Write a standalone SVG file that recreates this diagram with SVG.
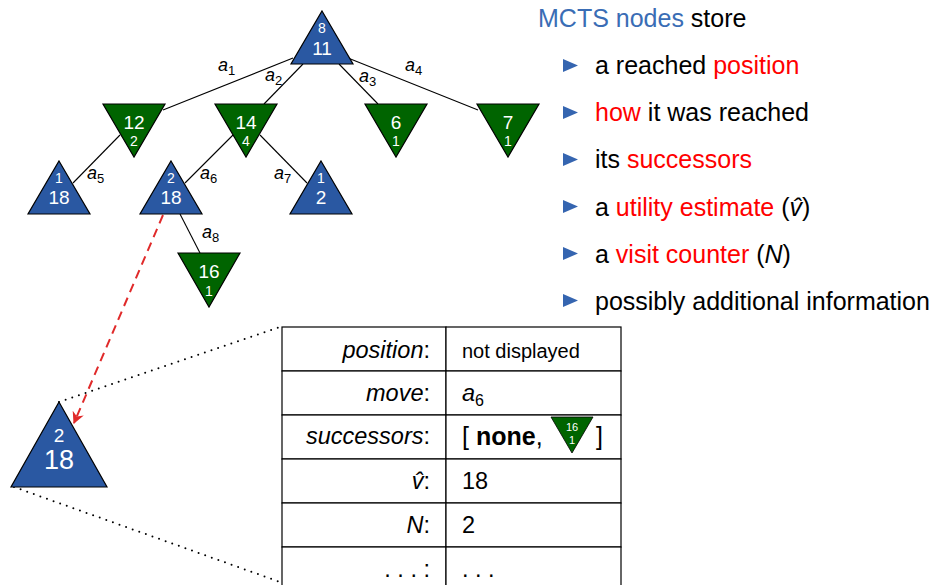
<svg xmlns="http://www.w3.org/2000/svg" width="935" height="585" viewBox="0 0 935 585">
<style>
.bl{fill:#2a58a2;stroke:#000;stroke-width:1.2}
.gr{fill:#006400;stroke:#000;stroke-width:1.2}
.nt{font-family:"Liberation Sans",Arial,sans-serif;fill:#fff;text-anchor:middle}
.big{font-size:19px}
.sm{font-size:14px}
.edge{stroke:#000;stroke-width:1.1;fill:none}
.el{font-family:"Liberation Sans",Arial,sans-serif;font-size:18px;fill:#000}
.it{font-style:italic}
.sub{font-size:13px;font-style:normal}
.rt{font-family:"Liberation Sans",Arial,sans-serif;font-size:25px;fill:#000}
.red{fill:#ff0000}
.blt{fill:#3565b0}
.tb{font-family:"Liberation Sans",Arial,sans-serif;font-size:23.5px;fill:#000}
.tl{text-anchor:end}
.dot{stroke:#000;stroke-width:2;stroke-linecap:round;stroke-dasharray:0 7;fill:none}
.cell{fill:#fff;stroke:#000;stroke-width:1.2}
</style>
<defs>
<marker id="ah" viewBox="0 0 10 10" refX="9" refY="5" markerWidth="6" markerHeight="6" orient="auto" markerUnits="strokeWidth">
<path d="M0,0 L10,5 L0,10 L3,5 Z" fill="#e02a2a"/>
</marker>
</defs>

<g id="connectors">
<line class="edge" x1="293" y1="58" x2="163" y2="110"/>
<line class="edge" x1="303" y1="64" x2="264" y2="104"/>
<line class="edge" x1="339" y1="64" x2="378" y2="104"/>
<line class="edge" x1="348" y1="58" x2="478" y2="110"/>
<line class="edge" x1="120" y1="135" x2="73" y2="183"/>
<line class="edge" x1="233" y1="135" x2="185" y2="183"/>
<line class="edge" x1="260" y1="135" x2="307" y2="183"/>
<line class="edge" x1="180" y1="214" x2="200" y2="253"/>
<line x1="163" y1="215" x2="74" y2="423" stroke="#e02a2a" stroke-width="2" stroke-dasharray="9 6" marker-end="url(#ah)"/>
<line class="dot" x1="59" y1="402" x2="280" y2="327"/>
<line class="dot" x1="14" y1="487" x2="280" y2="582"/>
</g>

<g id="edge-labels">
<text class="el" x="218" y="71"><tspan class="it">a</tspan><tspan class="sub" dy="4">1</tspan></text>
<text class="el" x="265" y="81"><tspan class="it">a</tspan><tspan class="sub" dy="4">2</tspan></text>
<text class="el" x="359" y="82"><tspan class="it">a</tspan><tspan class="sub" dy="4">3</tspan></text>
<text class="el" x="405" y="71"><tspan class="it">a</tspan><tspan class="sub" dy="4">4</tspan></text>
<text class="el" x="87" y="179"><tspan class="it">a</tspan><tspan class="sub" dy="4">5</tspan></text>
<text class="el" x="200" y="179"><tspan class="it">a</tspan><tspan class="sub" dy="4">6</tspan></text>
<text class="el" x="274" y="179"><tspan class="it">a</tspan><tspan class="sub" dy="4">7</tspan></text>
<text class="el" x="202" y="238"><tspan class="it">a</tspan><tspan class="sub" dy="4">8</tspan></text>
</g>

<g id="root">
<polygon class="bl" points="322,11 353,64 291,64"/>
<text class="nt sm" x="322" y="33">8</text>
<text class="nt big" x="322" y="55">11</text>
</g>
<g id="n12">
<polygon class="gr" points="103,104 165,104 134,157"/>
<text class="nt big" x="134" y="129">12</text>
<text class="nt sm" x="134" y="146">2</text>
</g>
<g id="n14">
<polygon class="gr" points="215,104 277,104 246,157"/>
<text class="nt big" x="246" y="129">14</text>
<text class="nt sm" x="246" y="146">4</text>
</g>
<g id="n6">
<polygon class="gr" points="365,104 427,104 396,157"/>
<text class="nt big" x="396" y="129">6</text>
<text class="nt sm" x="396" y="146">1</text>
</g>
<g id="n7">
<polygon class="gr" points="477,104 539,104 508,157"/>
<text class="nt big" x="508" y="129">7</text>
<text class="nt sm" x="508" y="146">1</text>
</g>
<g id="n18a">
<polygon class="bl" points="59,161 90,214 28,214"/>
<text class="nt sm" x="59" y="183">1</text>
<text class="nt big" x="59" y="204">18</text>
</g>
<g id="n18b">
<polygon class="bl" points="171,161 202,214 140,214"/>
<text class="nt sm" x="171" y="183">2</text>
<text class="nt big" x="171" y="204">18</text>
</g>
<g id="n2">
<polygon class="bl" points="321,161 352,214 290,214"/>
<text class="nt sm" x="321" y="183">1</text>
<text class="nt big" x="321" y="204">2</text>
</g>
<g id="n16">
<polygon class="gr" points="178,253 240,253 209,307"/>
<text class="nt big" x="209" y="278">16</text>
<text class="nt sm" x="209" y="296">1</text>
</g>
<g id="bignode">
<polygon class="bl" points="59,402 107,487 11,487"/>
<text class="nt" style="font-size:19px" x="59" y="442">2</text>
<text class="nt" style="font-size:27px" x="59" y="469">18</text>
</g>

<g id="bullets">
<text class="rt" x="538" y="27"><tspan fill="#3a6db5">MCTS nodes</tspan> store</text>
<polygon class="blt" points="563,59 578,65.5 563,72"/>
<text class="rt" x="595" y="74">a reached <tspan class="red">position</tspan></text>
<polygon class="blt" points="563,106 578,112.5 563,119"/>
<text class="rt" x="595" y="121"><tspan class="red">how</tspan> it was reached</text>
<polygon class="blt" points="563,153 578,159.5 563,166"/>
<text class="rt" x="595" y="168">its <tspan class="red">successors</tspan></text>
<polygon class="blt" points="563,200 578,206.5 563,213"/>
<text class="rt" x="595" y="216">a <tspan class="red">utility estimate</tspan> (<tspan font-style="italic">v̂</tspan>)</text>
<polygon class="blt" points="563,247 578,253.5 563,260"/>
<text class="rt" x="595" y="263">a <tspan class="red">visit counter</tspan> (<tspan font-style="italic">N</tspan>)</text>
<polygon class="blt" points="563,294 578,300.5 563,307"/>
<text class="rt" x="595" y="310">possibly additional information</text>
</g>

<g id="table">
<rect class="cell" x="282" y="327" width="164" height="44"/>
<rect class="cell" x="446" y="327" width="175" height="44"/>
<rect class="cell" x="282" y="371" width="164" height="44"/>
<rect class="cell" x="446" y="371" width="175" height="44"/>
<rect class="cell" x="282" y="415" width="164" height="44"/>
<rect class="cell" x="446" y="415" width="175" height="44"/>
<rect class="cell" x="282" y="459" width="164" height="44"/>
<rect class="cell" x="446" y="459" width="175" height="44"/>
<rect class="cell" x="282" y="503" width="164" height="44"/>
<rect class="cell" x="446" y="503" width="175" height="44"/>
<rect class="cell" x="282" y="547" width="164" height="44"/>
<rect class="cell" x="446" y="547" width="175" height="44"/>

<text class="tb tl" x="430" y="358"><tspan font-style="italic">position</tspan>:</text>
<text class="tb" x="462" y="358" style="font-size:20px">not displayed</text>
<text class="tb tl" x="430" y="401"><tspan font-style="italic">move</tspan>:</text>
<text class="tb" x="462" y="401"><tspan font-style="italic">a</tspan><tspan style="font-size:16px" dy="5">6</tspan></text>
<text class="tb tl" x="430" y="444"><tspan font-style="italic">successors</tspan>:</text>
<text class="tb" x="462" y="445" style="font-size:25px">[ <tspan font-weight="bold">none</tspan>,</text>
<text class="tb" x="596" y="445" style="font-size:25px">]</text>
<g id="mini16">
<polygon class="gr" points="551,417 593,417 572,453" style="stroke-width:0.8"/>
<text class="nt" style="font-size:11px" x="572" y="431">16</text>
<text class="nt" style="font-size:11px" x="572" y="444">1</text>
</g>
<text class="tb tl" x="430" y="489"><tspan font-style="italic">v̂</tspan>:</text>
<text class="tb" x="462" y="489">18</text>
<text class="tb tl" x="430" y="533"><tspan font-style="italic">N</tspan>:</text>
<text class="tb" x="462" y="533">2</text>
<text class="tb tl" x="430" y="577">. . . :</text>
<text class="tb" x="462" y="577">. . .</text>
</g>
</svg>
